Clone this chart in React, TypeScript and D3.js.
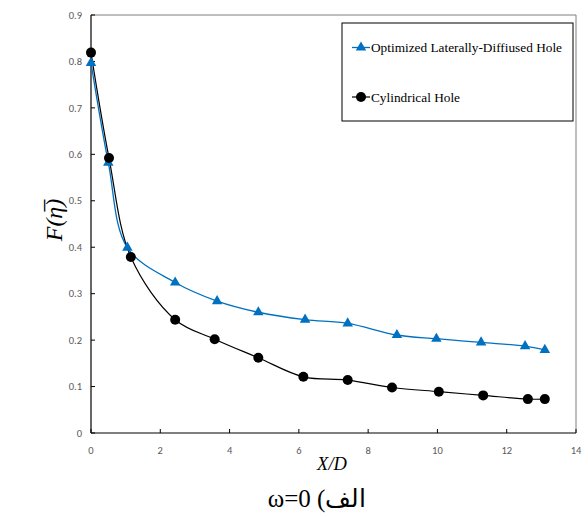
import React from "react";
import * as d3 from "d3";

const xTicks = [0, 2, 4, 6, 8, 10, 12, 14];
const yTicks = [0, 0.1, 0.2, 0.3, 0.4, 0.5, 0.6, 0.7, 0.8, 0.9];

const seriesNames = ["Optimized Laterally-Diffiused Hole", "Cylindrical Hole"];

const lateralX = [0, 0.5, 1.05, 2.43, 3.64, 4.83, 6.18, 7.41, 8.83, 9.97, 11.26, 12.53, 13.1];
const lateralY = [0.797, 0.582, 0.399, 0.324, 0.284, 0.26, 0.244, 0.236, 0.211, 0.203, 0.195, 0.187, 0.179];

const cylX = [0, 0.52, 1.15, 2.43, 3.57, 4.83, 6.13, 7.41, 8.69, 10.04, 11.32, 12.61, 13.1];
const cylY = [0.819, 0.592, 0.379, 0.244, 0.202, 0.162, 0.121, 0.114, 0.098, 0.089, 0.081, 0.073, 0.073];

const W = 588;
const H = 518;
const L = 91, R = 576, T = 15, B = 433;
const BLUE = "#0070C0";
const SERIF = "'Liberation Serif', 'Times New Roman', serif";

export default function App() {
  const x = d3.scaleLinear().domain([0, 14]).range([L, R]);
  const y = d3.scaleLinear().domain([0, 0.9]).range([B, T]);
  const line = d3
    .line<[number, number]>()
    .x((d) => x(d[0]))
    .y((d) => y(d[1]))
    .curve(d3.curveCatmullRom.alpha(0.5));
  const lat: [number, number][] = lateralX.map((v, i) => [v, lateralY[i]]);
  const cyl: [number, number][] = cylX.map((v, i) => [v, cylY[i]]);
  const tri = d3.symbol().type(d3.symbolTriangle).size(48)()!;
  const tickFont = "Carlito, Lato, 'Liberation Sans', sans-serif";

  return (
    <svg width={W} height={H} style={{ position: "absolute", left: 0, top: 0, background: "#fff" }}>
      <rect x={0} y={0} width={W} height={H} fill="#fff" />
      <line x1={L} x2={R} y1={T} y2={T} stroke="#7f7f7f" strokeWidth={1} />
      <line x1={R} x2={R} y1={T} y2={B} stroke="#7f7f7f" strokeWidth={1} />
      <line x1={L} x2={L} y1={T} y2={B} stroke="#000" strokeWidth={1.2} />
      <line x1={L} x2={R} y1={B} y2={B} stroke="#000" strokeWidth={1.2} />
      {yTicks.map((t) => (
        <g key={"y" + t}>
          <line x1={L} x2={L + 4} y1={y(t)} y2={y(t)} stroke="#000" />
          <text x={L - 9} y={y(t)} dy="0.35em" textAnchor="end" fontSize={10.5} fill="#595959" fontFamily={tickFont}>
            {t === 0 ? "0" : d3.format(".1f")(t)}
          </text>
        </g>
      ))}
      {xTicks.map((t) => (
        <g key={"x" + t}>
          <line x1={x(t)} x2={x(t)} y1={B} y2={B - 4} stroke="#000" />
          <text x={x(t)} y={B + 17} dy="0.35em" textAnchor="middle" fontSize={10.5} fill="#595959" fontFamily={tickFont}>
            {t}
          </text>
        </g>
      ))}
      <path d={line(lat) || ""} fill="none" stroke={BLUE} strokeWidth={1.3} />
      <path d={line(cyl) || ""} fill="none" stroke="#000" strokeWidth={1.2} />
      {lat.map((d, i) => (
        <path key={"t" + i} d={tri} transform={`translate(${x(d[0])},${y(d[1])})`} fill={BLUE} />
      ))}
      {cyl.map((d, i) => (
        <circle key={"c" + i} cx={x(d[0])} cy={y(d[1])} r={5} fill="#000" />
      ))}
      <rect x={342} y={23} width={231} height={98} fill="#fff" stroke="#000" strokeWidth={1} />
      <line x1={352} x2={370} y1={47.5} y2={47.5} stroke={BLUE} strokeWidth={1.3} />
      <path d={tri} transform="translate(361,47.5)" fill={BLUE} />
      <text x={371} y={47.5} dy="0.35em" fontSize={13.3} fontFamily={SERIF} fill="#000">
        {seriesNames[0]}
      </text>
      <line x1={352} x2={370} y1={97} y2={97} stroke="#000" strokeWidth={1.2} />
      <circle cx={361} cy={97} r={5} fill="#000" />
      <text x={371} y={97} dy="0.35em" fontSize={13.3} fontFamily={SERIF} fill="#000">
        {seriesNames[1]}
      </text>
      <text x={332} y={470} textAnchor="middle" fontSize={18.5} fontStyle="italic" fontFamily={SERIF}>
        X/D
      </text>
      <text transform="translate(62,220) rotate(-90)" textAnchor="middle" fontSize={24} fontStyle="italic" fontFamily={SERIF}>
        F(η̅)
      </text>
      <text x={317} y={507} textAnchor="middle" fontSize={25} fontFamily={SERIF}>
        ω=0 (الف
      </text>
    </svg>
  );
}
